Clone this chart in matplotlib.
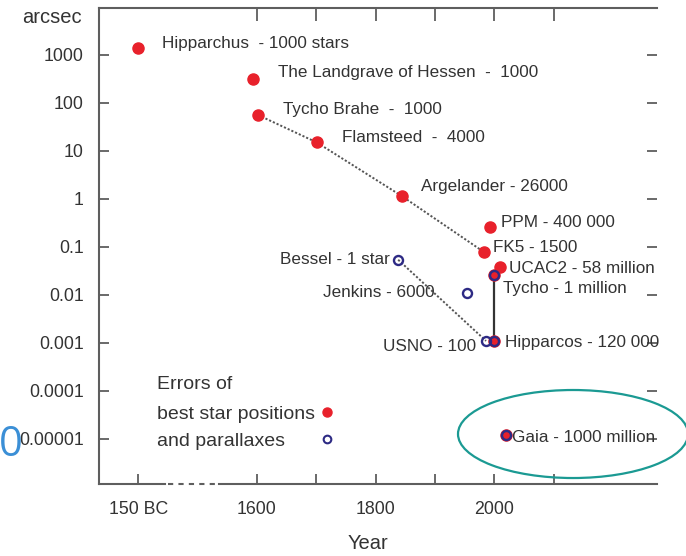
import matplotlib as mlp
mlp.use('Agg')
import matplotlib.pyplot as plt
from matplotlib import rcParams
from matplotlib.patches import Ellipse
from matplotlib.ticker import FixedLocator, NullLocator
rcParams['font.family'] = ['Liberation Sans', 'DejaVu Sans']
rcParams['font.size'] = 12
rcParams['text.color'] = '#333333'

# 150 BC is drawn on the broken part of the year axis, at position 1400
red_names = ['Hipparchus  - 1000 stars', 'The Landgrave of Hessen  -  1000',
             'Tycho Brahe  -  1000', 'Flamsteed  -  4000', 'Argelander - 26000',
             'PPM - 400 000', 'FK5 - 1500', 'UCAC2 - 58 million',
             'Tycho - 1 million', 'Hipparcos - 120 000', 'Gaia - 1000 million']
red_year = [1400, 1593, 1602, 1701, 1844, 1992, 1982, 2009, 1999, 1999, 2019]
red_err = [1400, 316, 56, 15, 1.15, 0.26, 0.079, 0.038, 0.026, 0.0011, 1.2e-5]

blue_names = ['Bessel - 1 star', 'Jenkins - 6000', 'USNO - 100']
blue_year = [1838, 1954, 1986, 1999, 1999, 2019]
blue_err = [0.054, 0.011, 0.0011, 0.0011, 0.026, 1.2e-5]

x_ticks = [1400, 1600, 1700, 1800, 1900, 2000, 2100]
x_labels = ['150 BC', '1600', '', '1800', '', '2000', '']
y_ticks = [1e-5, 1e-4, 1e-3, 1e-2, 1e-1, 1, 10, 100, 1000]
y_labels = ['0.00001', '0.0001', '0.001', '0.01', '0.1', '1', '10', '100', '1000']

red = '#e8212b'
blue = '#2d2a84'
grey = '#5e5e5e'

fig = plt.figure(figsize=(6.86, 5.56), dpi=100)
ax = fig.add_axes([0.1443, 0.1295, 0.8134, 0.8561])
ax.set_yscale('log')
ax.set_xlim(1334, 2274)
ax.set_ylim(1.15e-6, 9.5e3)

# dotted trends and the Tycho-Hipparcos bar
trend = [2, 3, 4, 6]
ax.plot([red_year[i] for i in trend], [red_err[i] for i in trend],
        color='#555555', lw=1.4, dashes=(1.1, 1.0), zorder=1)
ax.plot([blue_year[0], blue_year[2]], [blue_err[0], blue_err[2]],
        color='#555555', lw=1.4, dashes=(1.1, 1.0), zorder=1)
ax.plot([red_year[8], red_year[9]], [red_err[8], red_err[9]],
        color='#333333', lw=1.6, zorder=1)

ax.plot(red_year, red_err, 'o', ms=8, color=red, mec=red, zorder=3)
ax.plot(blue_year, blue_err, 'o', ms=6.5, mfc='none', mec=blue, mew=1.7, zorder=4)

red_off = [(17, 3), (18, 4.3), (18, 4.3), (18, 3.6), (14, 6.5), (8, 3.6),
           (6.5, 3), (7, -0.7), (6.5, -9.4), (8, -1.4), (4.3, -1.4)]
for name, x, y, off in zip(red_names, red_year, red_err, red_off):
    ax.annotate(name, (x, y), xytext=off, textcoords='offset points',
                ha='left', va='center', fontsize=12.3)
blue_off = [(-6, 0.5), (-23, 0), (-7, -4.3)]
for name, x, y, off in zip(blue_names, blue_year, blue_err, blue_off):
    ax.annotate(name, (x, y), xytext=off, textcoords='offset points',
                ha='right', va='center', fontsize=12.3)

# legend
for txt, yy in zip(['Errors of', 'best star positions', 'and parallaxes'],
                   [0.208, 0.147, 0.090]):
    ax.text(0.104, yy, txt, transform=ax.transAxes, fontsize=14, va='center')
ax.plot(0.4086, 0.151, 'o', ms=6.5, color=red, transform=ax.transAxes)
ax.plot(0.4086, 0.095, 'o', ms=5.5, mfc='none', mec=blue, mew=1.5,
        transform=ax.transAxes)

# axes styling
for s in ['right', 'bottom']:
    ax.spines[s].set_visible(False)
for s in ['left', 'top']:
    ax.spines[s].set_color(grey)
    ax.spines[s].set_linewidth(1.5)
xb = ax.get_xaxis_transform()
ax.plot([1334, 1445], [0, 0], color=grey, lw=1.5, transform=xb, clip_on=False)
ax.plot([1450, 1533], [0, 0], color=grey, lw=1.5, dashes=(2.5, 2.5),
        transform=xb, clip_on=False)
ax.plot([1536, 2274], [0, 0], color=grey, lw=1.5, transform=xb, clip_on=False)

ax.xaxis.set_major_locator(FixedLocator(x_ticks))
ax.set_xticklabels(x_labels)
ax.yaxis.set_major_locator(FixedLocator(y_ticks))
ax.yaxis.set_minor_locator(NullLocator())
ax.set_yticklabels(y_labels)
ax.tick_params(axis='both', direction='in', length=7, width=1.3, color=grey,
               labelsize=12.8, labelcolor='#333333')
ax.tick_params(axis='y', right=True, pad=11)
ax.tick_params(axis='x', pad=12)

sec = ax.secondary_xaxis('top')
sec.set_xticks([1600, 1700, 1800, 1900, 2000, 2100])
sec.set_xticklabels([])
sec.tick_params(direction='in', length=9, width=1.3, color=grey)
sec.spines['top'].set_visible(False)

fig.text(22 / 686, 0.969, 'arcsec', fontsize=14.5, ha='left', va='center')
fig.text(0.536, 0.0216, 'Year', fontsize=14.5, ha='center', va='center')
fig.text(-1.5 / 686, 0.2, '0', fontsize=30, color='#3b8fd6', ha='left',
         va='center', family='Open Sans')

fig.patches.append(Ellipse((0.8353, 0.2194), 0.3353, 0.1583, fill=False,
                           ec='#1b9a93', lw=1.6, transform=fig.transFigure))

fig.savefig('out.png', dpi=100)
